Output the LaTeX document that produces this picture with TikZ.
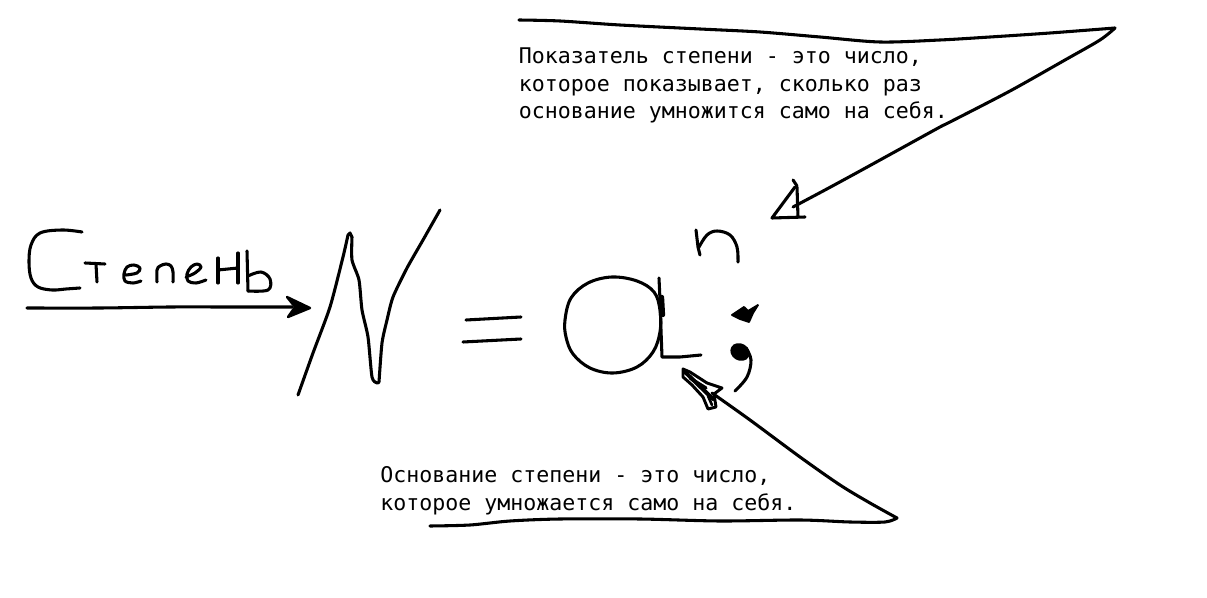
\documentclass[tikz,border=0pt]{standalone}
\usepackage{fontspec}
\newfontfamily\monofont{DejaVu Sans Mono}
\begin{document}
\begin{tikzpicture}[x=0.75pt,y=-0.75pt,
  pen/.style={line width=2.3pt, line cap=round, line join=round},
  note/.style={font=\monofont\fontsize{16.2pt}{20.8pt}\selectfont, align=left, anchor=north west, inner sep=0pt, text=black}]
\useasboundingbox[fill=white] (0,0) rectangle (1207,598);

% ---------- word "Степень" and its arrow ----------
\draw[pen] plot[smooth, tension=0.6] coordinates {(82,232) (62,230) (40,233) (31,245) (29,262) (31,278) (38,287) (52,290) (66,289) (80,288)};
\draw[pen] (85,263) -- (105,264);
\draw[pen] (96,264) -- (97,282);
\draw[pen] plot[smooth, tension=0.6] coordinates {(126,275) (137,273) (140,268) (134,265) (127,267) (124,274) (125,281) (133,283) (141,281)};
\draw[pen] plot[smooth, tension=0.6] coordinates {(157,282) (157,270) (160,266) (166,264) (171,266) (173,272) (173,282)};
\draw[pen] plot[smooth, tension=0.6] coordinates {(186,277) (195,273) (201,267) (197,264) (191,267) (187,274) (188,281) (196,283) (206,280)};
\draw[pen] (218,258) -- (218,283);
\draw[pen] (218,270) -- (238,268);
\draw[pen] (238,253) -- (238,283);
\draw[pen] (247,251) -- (248,291);
\draw[pen] plot[smooth, tension=0.6] coordinates {(248,276) (261,272) (270,279) (268,290) (248,291)};
\coordinate (wstart) at (27,308);
\coordinate (wtip) at (310,308);
\draw[pen] plot[smooth, tension=0.5] coordinates {(wstart) (100,308) (170,307) (230,307) (292,307)};
\fill (wtip) -- (287,297) -- (295,307) -- (288,317) -- cycle;
\draw[line width=1.8pt, line join=round] (wtip) -- (287,297) -- (295,307) -- (288,317) -- cycle;

% ---------- N ----------
\draw[pen] plot[smooth, tension=0.4] coordinates {(298,395) (313,353) (330,307) (343,257) (348,235)};
\draw[pen] (348,235) -- (350,233) -- (352,237);
\draw[pen] plot[smooth, tension=0.4] coordinates {(352,237) (352,260) (359,280) (362,310) (368,337) (372,377) (377,383) (379,382)};
\draw[pen] plot[smooth, tension=0.4] coordinates {(379,382) (382,343) (387,320) (393,297) (407,268) (423,240) (440,210)};

% ---------- = ----------
\draw[pen] (466,320) -- (521,317);
\draw[pen] (463,342) -- (521,339);

% ---------- a ----------
\draw[pen] plot[smooth cycle, tension=0.6] coordinates {(565,320) (571,298) (588,283) (612,277) (637,281) (654,292) (660,310) (660,332) (653,352) (637,367) (613,373) (590,368) (573,354) (566,337)};
\draw[pen] (659,278) -- (660,300) -- (661,330) -- (662,357) -- (680,357) -- (701,355);
\draw[line width=3.2pt, line cap=round] (662,297) -- (663,315);

% ---------- n ----------
\draw[pen] (696,230) -- (698,247) -- (700,255);
\draw[pen] plot[smooth, tension=0.6] coordinates {(699,247) (707,235) (717,231) (730,235) (737,247) (738,262)};

% ---------- markers ----------
\fill (732,315) -- (744,307) -- (748,311) -- (758,305) -- (753,313) -- (749,322) -- (740,319) -- cycle;
\draw[line width=1.4pt, line join=round] (732,315) -- (744,307) -- (748,311) -- (758,305) -- (753,313) -- (749,322) -- (740,319) -- cycle;
\fill[rotate around={-30:(740,352)}] (740,352) ellipse[x radius=10, y radius=8.5];
\draw[pen] plot[smooth, tension=0.6] coordinates {(746,348) (751,360) (747,377) (735,391)};

% ---------- top note and its arrow ----------
\node[note] (top) at (518.5,47.3) {Показатель степени - это число,\\которое показывает, сколько раз\\основание умножится само на себя.};
\coordinate (ttip) at (1115,28);
\coordinate (tend) at (793,207);
\draw[pen] plot[smooth, tension=0.5] coordinates {(519,20) (560,21) (620,25) (700,29) (760,32) (820,37) (880,42) (940,40) (990,37) (1050,33) (ttip)};
\draw[pen] plot[smooth, tension=0.5] coordinates {(ttip) (1100,40) (1065,60) (1010,91) (950,122) (940,127) (900,149) (860,171) (825,190) (tend)};
\draw[pen] (793,180) -- (797,186);
\draw[pen] (795,187) -- (772,218) -- (805,217);
\draw[pen] (797,187) -- (798,217);

% ---------- bottom note and its arrow ----------
\node[note] (bot) at (380,466.2) {Основание степени - это число,\\которое умножается само на себя.};
\coordinate (btip) at (897,518);
\coordinate (bend) at (712,393);
\draw[pen] plot[smooth, tension=0.5] coordinates {(430,526) (470,525) (510,521) (560,519) (640,519) (720,521) (800,520) (850,522) (885,522) (btip)};
\draw[pen] plot[smooth, tension=0.5] coordinates {(btip) (870,503) (840,485) (800,457) (750,420) (bend)};
\draw[line width=2.2pt, line join=round] (683,369) -- (690,372) -- (707,383) -- (722,388) -- (714,394) -- (716,407) -- (708,409) -- (703,397) -- (692,385) -- (683,377) -- cycle;
\draw[line width=3pt, line cap=round] (685,372) -- (713,399);
\draw[line width=2.4pt, line cap=round] (690,378) -- (706,388);
\draw[line width=2pt, line cap=round] (708,396) -- (712,405);
\end{tikzpicture}
\end{document}
